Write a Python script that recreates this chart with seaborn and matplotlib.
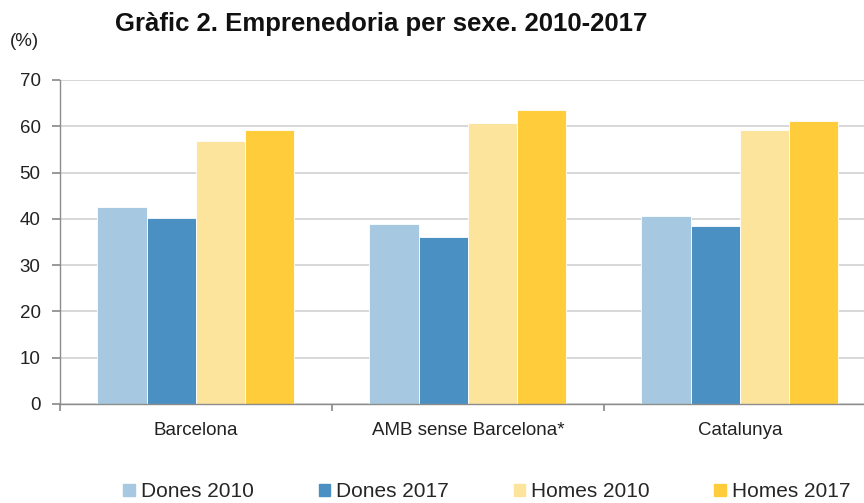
import pandas as pd
import numpy as np
import matplotlib.pyplot as plt
import matplotlib.patches as mpatches
import seaborn as sns

# dades
llocs = ['Barcelona', 'AMB sense Barcelona*', 'Catalunya']
series = ['Dones 2010', 'Dones 2017', 'Homes 2010', 'Homes 2017']
dones_2010 = [42.6, 38.9, 40.5]
dones_2017 = [40.2, 36.0, 38.4]
homes_2010 = [56.9, 60.8, 59.2]
homes_2017 = [59.2, 63.5, 61.1]
colors = ['#A6C8E0', '#4A90C2', '#FDE49C', '#FFCC3C']

df = pd.DataFrame({
    'lloc': llocs * 4,
    'serie': np.repeat(series, 3),
    'valor': dones_2010 + dones_2017 + homes_2010 + homes_2017,
})

sns.set_theme(style='white')
plt.rcParams['font.family'] = ['Liberation Sans', 'DejaVu Sans']

fig = plt.figure(figsize=(8.64, 5.03), dpi=100)
# l'area de dibuix continua una mica per la dreta (retallada a l'original)
ax = fig.add_axes([0.0694, 0.197, 0.9444, 0.644])

sns.barplot(data=df, x='lloc', y='valor', hue='serie', order=llocs, hue_order=series,
            palette=colors, saturation=1, width=0.724, edgecolor='white', linewidth=0.6,
            ax=ax, legend=False)

ax.set_ylim(0, 70)
ax.set_xlim(-0.5, 2.5)
ax.set_yticks(range(0, 71, 10))
ax.yaxis.grid(True, color='#D4D4D4', lw=1.3)
ax.set_axisbelow(True)
ax.set_xlabel('')
ax.set_ylabel('')

# ticks de l'eix x entre grups, etiquetes al centre
ax.set_xticks([-0.5, 0.5, 1.5])
ax.set_xticklabels([])
ax.set_xticks([0, 1, 2], minor=True)
ax.set_xticklabels(llocs, minor=True, fontsize=13.5, color='#222222')
ax.tick_params(axis='x', which='major', direction='out', length=5, color='#8C8C8C', bottom=True)
ax.tick_params(axis='x', which='minor', length=0, pad=13)
ax.tick_params(axis='y', direction='out', length=6, color='#8C8C8C', left=True,
               labelsize=13.5, labelcolor='#222222', pad=8)

for s in ['top', 'right']:
    ax.spines[s].set_visible(False)
for s in ['left', 'bottom']:
    ax.spines[s].set_color('#8C8C8C')
    ax.spines[s].set_linewidth(1.0)

fig.text(0.133, 0.953, 'Gràfic 2. Emprenedoria per sexe. 2010-2017',
         fontsize=18.5, fontweight='bold', va='center', ha='left', color='#111111')
fig.text(0.012, 0.917, '(%)', fontsize=13.5, va='center', ha='left', color='#222222')

handles = [mpatches.Patch(color=c, label=l) for c, l in zip(colors, series)]
fig.legend(handles=handles, loc='center', bbox_to_anchor=(0.5637, 0.022), ncol=4,
           frameon=False, fontsize=15, handlelength=0.55, handleheight=0.55,
           handletextpad=0.3, columnspacing=3.1)

plt.savefig('out.png', dpi=100)
